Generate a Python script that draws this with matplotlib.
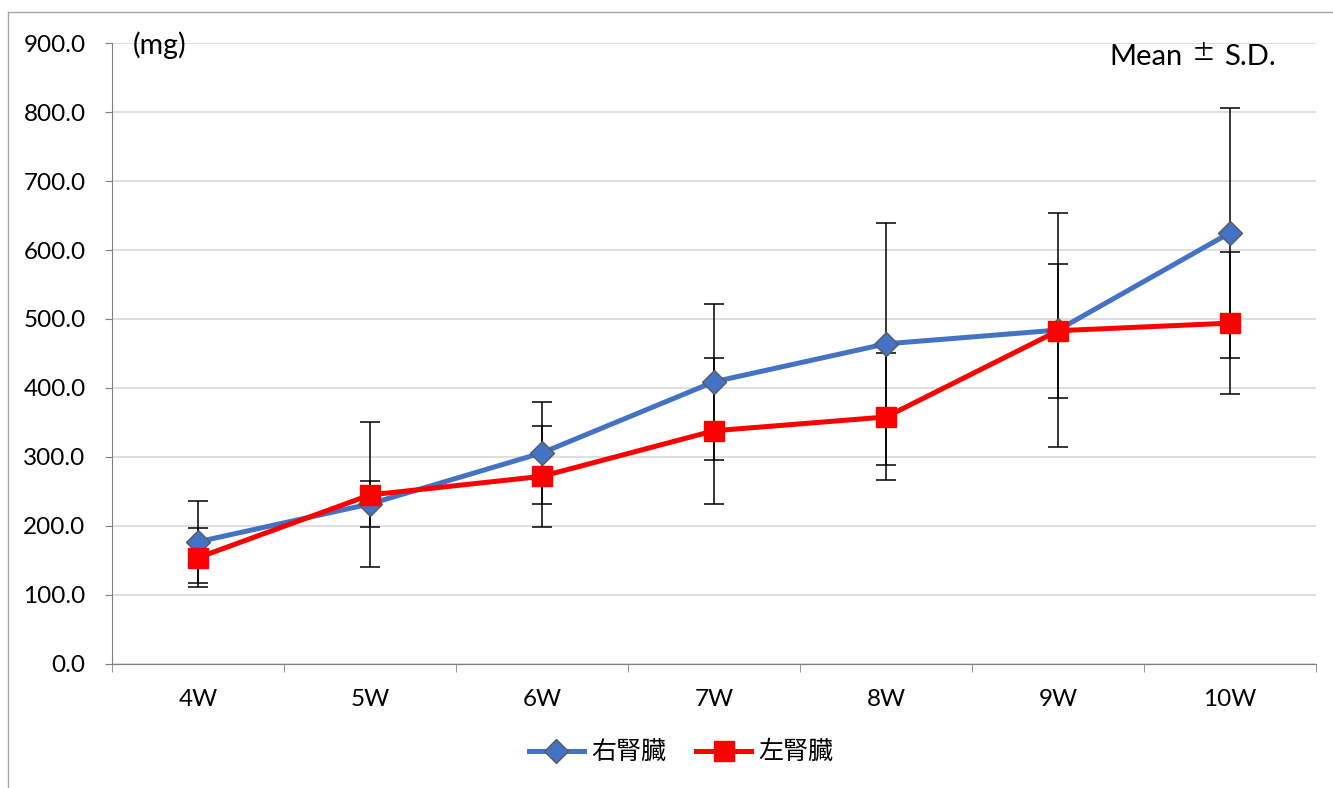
import matplotlib.pyplot as plt
import numpy as np
from matplotlib.lines import Line2D

plt.rcParams['font.family'] = ['Lato', 'Noto Sans CJK JP', 'DejaVu Sans']

# data
weeks = ['4W', '5W', '6W', '7W', '8W', '9W', '10W']
right_mean = [177, 232, 306, 409, 464, 484, 625]
right_sd = [59, 33, 74, 113, 175, 170, 181]
left_mean = [154, 245, 272, 338, 358, 483, 494]
left_sd = [43, 105, 73, 106, 92, 97, 103]
labels = ['右腎臓', '左腎臓']

blue = '#4472C4'
red = '#FF0000'

W, H = 1333, 788
fig = plt.figure(figsize=(W / 100, H / 100), dpi=100)
ax = fig.add_axes([0.084, 0.1574, 0.9033, 0.788])

x = np.arange(len(weeks))

# error bars first so the markers sit on top
ax.errorbar(x, right_mean, yerr=right_sd, fmt='none', ecolor='black',
            elinewidth=1.1, capsize=7, capthick=1.1, zorder=3)
ax.errorbar(x, left_mean, yerr=left_sd, fmt='none', ecolor='black',
            elinewidth=1.1, capsize=7, capthick=1.1, zorder=3)
ax.plot(x, right_mean, color=blue, lw=3.6, marker='D', markersize=12,
        markerfacecolor=blue, markeredgecolor='#5a5a5a', markeredgewidth=1.0,
        zorder=4, label=labels[0])
ax.plot(x, left_mean, color=red, lw=3.6, marker='s', markersize=14,
        markerfacecolor=red, markeredgecolor=red, zorder=5, label=labels[1])

ax.set_xlim(-0.5, len(weeks) - 0.5)
ax.set_ylim(0, 900)
ax.set_yticks(np.arange(0, 901, 100))
ax.set_yticklabels(['%.1f' % v for v in np.arange(0, 901, 100)])
ax.set_xticks(x)
ax.set_xticklabels(weeks)
ax.set_xticks(np.arange(-0.5, len(weeks)), minor=True)

ax.grid(axis='y', color='#d9d9d9', lw=1.2, zorder=0)
ax.set_axisbelow(True)
for s in ['top', 'right']:
    ax.spines[s].set_visible(False)
ax.spines['left'].set_color('#7f7f7f')
ax.spines['bottom'].set_color('#7f7f7f')

ax.tick_params(axis='y', length=5, color='#7f7f7f', labelsize=17.5, pad=14)
ax.tick_params(axis='x', which='major', length=0, labelsize=17.5, pad=18)
ax.tick_params(axis='x', which='minor', length=6, color='#7f7f7f')

# annotations, placed in figure pixels
def fx(px):
    return px / W

def fy(py):
    return 1 - py / H

fig.text(fx(133), fy(45), '(mg)', fontsize=20.5, ha='left', va='center')
fig.text(fx(1183), fy(65), 'Mean', fontsize=21, ha='right', va='baseline')
fig.text(fx(1204), fy(54), '±', fontsize=17, ha='center', va='center',
         family=['Noto Sans CJK JP'])
fig.text(fx(1224), fy(65), 'S.D.', fontsize=21, ha='left', va='baseline')

handles = [Line2D([], [], color=blue, lw=3.6, marker='D', markersize=12,
                  markerfacecolor=blue, markeredgecolor='#5a5a5a'),
           Line2D([], [], color=red, lw=3.6, marker='s', markersize=14,
                  markerfacecolor=red, markeredgecolor=red)]
fig.legend(handles, labels, loc='center', bbox_to_anchor=(0.511, 0.046),
           ncol=2, frameon=False, fontsize=18, handlelength=2.2,
           handletextpad=0.3, columnspacing=1.2)

# outer chart-area border (top and left visible)
fig.add_artist(Line2D([fx(8), fx(8)], [0, fy(12)],
                      transform=fig.transFigure, color='#a6a6a6', lw=1.0))
fig.add_artist(Line2D([fx(8), 1], [fy(12), fy(12)],
                      transform=fig.transFigure, color='#a6a6a6', lw=1.0))

fig.savefig('out.png', dpi=100)
